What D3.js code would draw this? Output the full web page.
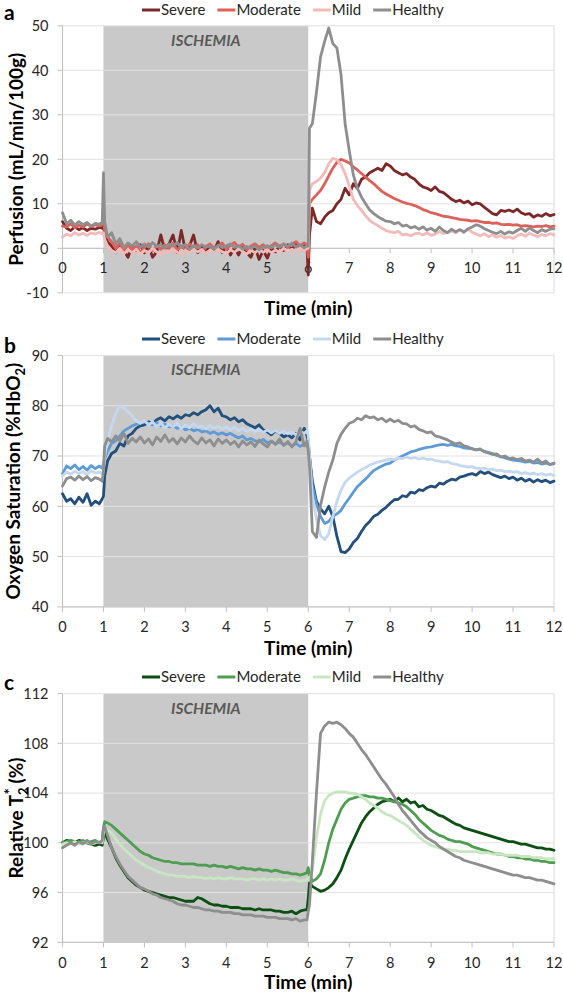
<!DOCTYPE html>
<html><head><meta charset="utf-8">
<script src="https://cdn.jsdelivr.net/npm/d3@7"></script>
<style>body{margin:0;background:#fff}svg{display:block}text{font-family:Lato,"Open Sans",sans-serif}</style>
</head><body><svg id="c" width="563" height="997"></svg>
<script>
// ---------- DATA ----------
const time = [0,0.1,0.2,0.3,0.4,0.5,0.6,0.7,0.8,0.9,
 0.97,1,1.03,
 1.1,1.2,1.3,1.4,1.5,1.6,1.7,1.8,1.9,
 2,2.1,2.2,2.3,2.4,2.5,2.6,2.7,2.8,2.9,
 3,3.1,3.2,3.3,3.4,3.5,3.6,3.7,3.8,3.9,
 4,4.1,4.2,4.3,4.4,4.5,4.6,4.7,4.8,4.9,
 5,5.1,5.2,5.3,5.4,5.5,5.6,5.7,5.8,5.9,
 5.97,6,6.03,
 6.1,6.2,6.3,6.4,6.5,6.6,6.7,6.8,6.9,
 7,7.1,7.2,7.3,7.4,7.5,7.6,7.7,7.8,7.9,
 8,8.1,8.2,8.3,8.4,8.5,8.6,8.7,8.8,8.9,
 9,9.1,9.2,9.3,9.4,9.5,9.6,9.7,9.8,9.9,
 10,10.1,10.2,10.3,10.4,10.5,10.6,10.7,10.8,10.9,
 11,11.1,11.2,11.3,11.4,11.5,11.6,11.7,11.8,11.9,
 12];
const groups = ["Severe","Moderate","Mild","Healthy"];
const timeTicks = [0,1,2,3,4,5,6,7,8,9,10,11,12];
const ischemia = [1,6];

// a: Perfusion (mL/min/100g)
const perfTicks = [-10,0,10,20,30,40,50];
const perfSevere = [6,4.5,4,4.8,4.2,4.6,4,4.5,4.3,4.7,
 4.5,5,3,
 1.5,0.5,-1,0.8,-0.5,-2,0.5,-0.5,0.8,
 -1,0.5,-2,-0.8,3,-0.5,1,3,-1,4,
 -0.5,0.5,3,-1,0.5,-1,0.8,-0.5,1.5,-1,
 0.5,-1.5,0.2,-1.5,0.5,-1,-2,0.2,-2.5,-0.5,
 -2.2,0,-0.8,0.5,-0.5,0.8,-0.3,1,0.2,0.8,
 0.5,-6,3,
 9,6,5.5,7,8,8.5,10,11,13.5,
 12,14.5,13.5,15.5,16,17,17.5,18,17.5,19,
 18.5,17.5,17,16.5,16.8,16,15.5,14.5,13.8,13.5,
 13,13.8,12.8,12.5,11.8,11,10.5,10.8,10.2,10.6,
 9.8,10.2,10,9.2,8.5,7.8,7.5,8.5,8.3,8.6,
 8.2,8.8,8,7.6,7.8,7,7.5,7.2,7.8,7.3,
 7.6];
const perfModerate = [5,4.8,5.5,4.6,5.2,4.8,5.5,4.9,5.3,5,
 5.5,6,4,
 2.5,1.5,0,1.2,-0.5,0.8,-0.3,0.5,-1,
 0.3,1,-0.5,0.6,-0.2,0.8,0,1.2,-0.4,0.5,
 -0.3,1,0.2,0.8,-0.5,0.4,1,0,0.6,1.2,
 -0.2,0.7,1.3,0.2,0.9,-0.3,0.5,1,0.2,0.8,
 -0.2,0.6,1.2,0.4,1,0.2,0.9,1.5,0.6,1.2,
 0.8,-2,10,
 11,12,13,14.5,16.3,18,19.3,20,19.6,
 19.2,18.3,17.6,16.8,16,15.2,14.5,13.6,12.8,12.2,
 11.7,11.2,10.8,10.4,10.1,9.9,9.6,9.2,8.7,8.4,
 8,7.8,7.5,7.2,7.1,6.9,6.7,6.5,6.4,6.3,
 6.1,6.2,6,5.8,5.8,5.6,5.7,5.4,5.3,5.4,
 5.2,5.3,5,5.1,5,4.8,5,4.9,5.1,4.8,
 5];
const perfMild = [2.5,3.2,2.8,3.5,3,3.4,2.9,3.5,3.2,3.6,
 3.3,3.5,2,
 0.5,-0.5,-1,0,-1.2,-0.3,-1,-0.2,-1.3,
 -0.5,-1,0,-0.8,-1.5,-0.3,-1,-0.2,-0.9,-1.4,
 -0.4,-1,-0.2,-0.8,-0.3,-1.1,-0.4,-0.9,-0.2,-0.8,
 -1.2,-0.3,-0.9,-0.1,-0.7,-1.3,-0.4,-1,-0.2,-0.9,
 -0.3,-1,-0.4,-0.9,0,-0.6,-0.2,-0.8,0.1,-0.5,
 0,0,13,
 14.5,15,15.8,17,19,20.2,19.9,18.8,16.8,
 14,11,9.6,8.5,7.3,6.3,5.6,5.1,4.5,4,
 3.7,3.5,3.8,3,3.2,2.8,3.3,3.4,3,3.5,
 2.9,3.2,3.8,3.3,3.6,3.9,3.5,4.2,3.8,4.3,
 3.6,3.2,2.8,3.3,2.6,3,2.5,2.9,2.3,2.6,
 2.2,2.8,3.2,2.7,3.4,3,2.6,3.1,2.8,3.3,
 3];
const perfHealthy = [8,5.5,6.3,5.2,6,5.3,5.8,5,5.6,5.4,
 5.8,17,6,
 2.5,3.5,1,2.2,0.2,1.2,0.5,1.5,0.2,
 1,0.3,1.3,0.4,0.8,0,1,0.5,1.3,0.2,
 0.9,-0.3,0.6,0.1,0.8,0.3,0.5,-0.2,0.7,0.2,
 0.5,1,0.2,0.6,-0.2,0.4,0,0.5,-0.3,0.2,
 0.6,0.1,0.8,0.2,1,0.4,1.2,0.3,0.8,0.1,
 0.6,0.5,27,
 28,35,43,46.5,49.5,46,45,39,28,
 22,16.5,13.5,11.5,10,8.6,7.8,7.1,6.6,6.1,
 6,5.5,5.8,5,5.2,4.6,4.9,4.3,4.8,4.1,
 4.5,3.8,4.8,4,3.5,4.3,3.7,4.2,3.6,4.4,
 4.8,5.3,5,4.4,4,3.6,3.3,3.8,3.2,3.7,
 3.4,4,4.5,3.8,4.6,4,3.5,4.2,3.8,4.3,
 4.4];

// b: Oxygen Saturation (%HbO2)
const satTicks = [40,50,60,70,80,90];
const satSevere = [62.5,61,61.5,60.5,61.8,60.8,62.5,60.2,61,60.5,
 61.5,62,66,
 69,70.5,71,72.5,72,74,74.5,75.5,76,
 76.2,76.8,76.4,77.2,77.6,77,77.8,77.4,78,77.5,
 78.2,78,78.6,78.2,78.8,79.2,80,78.8,79.5,78,
 77.8,77.2,77.6,76.8,77.2,76.4,76,75.6,76.2,75.2,
 74.8,74.2,75,74.5,73.8,74.2,73.6,74.5,73.2,75.5,
 74,73,70,
 65,61,59.5,58.5,60,58,54,51,50.8,
 51.5,52.8,53.6,55,56.2,57,58,58.4,59.2,59.8,
 60.6,61.3,61.4,62.1,61.9,62.8,62.6,63.3,63.1,63.7,
 64,63.8,64.6,64.4,65,65.4,65.2,65.8,66,66.3,
 66.5,66.2,66.9,66.5,66.8,66.3,66,65.7,66,65.5,
 65.8,65.2,65.6,65,65.4,64.8,65.3,64.9,65.2,64.7,
 65];
const satModerate = [66.5,68,67.5,68.2,67.3,67.9,67.2,68.1,67.5,68,
 67.6,68.5,69.5,
 71,72.5,73,74,75,75.5,76,76.3,76.5,
 76.8,76.5,76.2,76.6,76,76.3,75.8,76,75.5,75.8,
 75.2,75.5,75,75.3,74.8,75,74.5,74.8,74.3,74.6,
 74.2,74.5,74,73.6,74,73.2,73.5,73,72.8,73.3,
 72.6,72.9,72.4,72.8,72.2,72.6,72,72.5,71.9,72.4,
 72,71.5,70,
 64,60.5,58,56.6,57,58,58.5,59.2,60.5,
 61.6,62.8,63.9,64.7,65.4,66.3,67.1,67.6,68,68.4,
 68.6,69.2,69.6,70,70.4,70.8,71,71.3,71.5,71.7,
 71.8,72,72.2,72.3,72.1,72.3,72,71.9,71.6,71.5,
 71.4,71.2,71.3,70.9,70.7,70.5,70.1,69.9,69.6,69.4,
 69.2,69.1,69,68.8,68.9,68.6,68.7,68.4,68.6,68.3,
 68.5];
const satMild = [66,66.8,66.4,67,66.5,66.9,66.3,67.1,66.6,66.8,
 66.5,67,70,
 73,76,78.5,80,79.5,78.8,78,77,76.5,
 77,76.2,76.8,75.8,76.5,75.6,76.3,75.8,76.6,75.5,
 76.2,75.6,76.4,75.7,76,75.4,76.1,75.5,75.9,75.3,
 75.8,75.2,75.7,75,75.5,74.9,75.4,74.8,75.3,74.7,
 75.2,74.6,75.1,74.5,75,74.4,74.8,74.2,75,74.5,
 75,74,70,
 62,57.5,54.2,53.4,54.5,58,61,63.2,64.8,
 65.6,66.2,66.8,67.3,67.7,68.2,68.5,68.8,69,69.2,
 69.4,69.3,69.6,69.5,69.8,69.5,69.7,69.4,69.6,69.3,
 69.4,69.1,69,68.8,68.9,68.5,68.4,68.1,68,67.8,
 67.9,67.6,67.5,67.6,67.3,67.4,67.1,67.2,66.9,67,
 66.8,66.9,66.5,66.7,66.4,66.6,66.3,66.5,66.2,66.4,
 66.1];
const satHealthy = [64,65.5,65.8,65.2,66,65.3,65.9,65.1,65.7,65.4,
 65,67,72,
 73.5,72.8,74,73,74.5,72.5,73.5,72.8,73.8,
 72.6,73.4,72.2,73.8,72.9,74.2,72.8,73.5,72.4,73.6,
 72.8,74,73,72.4,73.6,72.6,73.2,72,73.4,72.5,
 73.2,72.3,72.9,71.8,73,72.2,72.8,71.9,73.2,72.4,
 71.8,73,72.3,73.4,72.1,72.9,71.8,72.8,75.5,72,
 73,71,68,
 55,53.8,60.2,63.8,66.8,69.2,72.5,74.3,75.5,
 76.5,76.8,77.5,77.2,78,77.6,77.8,77.2,77.5,76.8,
 77.3,76.8,77.1,76.5,76.4,75.8,76,75.3,75,74.6,
 74.8,74,73.8,73.5,73.2,72.8,72.4,72.6,72,71.8,
 71.5,71.2,71.4,70.8,70.6,70.3,70.4,69.8,70,69.5,
 69.6,69.3,69.5,69,69.2,68.8,69.4,68.6,69,68.3,
 68.6];

// c: Relative T2* (%)
const t2Ticks = [92,96,100,104,108,112];
const t2Severe = [100,100.2,100.1,100,100.2,100.1,100,99.9,99.8,99.9,
 99.8,100.5,100.8,
 100.3,99.6,98.8,98.2,97.7,97.2,96.9,96.6,96.4,
 96.2,96.1,96,95.9,95.8,95.7,95.6,95.6,95.5,95.4,
 95.3,95.3,95.3,95.6,95.5,95.3,95.1,95,95,94.9,
 94.9,94.8,94.8,94.8,94.7,94.7,94.7,94.6,94.7,94.6,
 94.6,94.6,94.5,94.5,94.4,94.4,94.5,94.3,94.5,94.6,
 94.6,95.5,96.8,
 96.5,96.3,96.1,96.2,96.4,96.7,97.2,97.8,98.7,
 99.5,100.2,100.9,101.6,102.1,102.5,102.8,103.1,103.3,103.4,
 103.5,103.3,103.6,103.3,103.5,103.2,103.3,102.9,103,102.7,
 102.6,102.4,102.2,102.1,101.9,101.7,101.5,101.4,101.2,101.1,
 101,100.9,100.8,100.7,100.6,100.5,100.4,100.3,100.2,100.1,
 100.1,100,99.9,99.9,99.8,99.7,99.6,99.6,99.5,99.5,
 99.4];
const t2Moderate = [100,100.1,100.2,100.1,100,100.2,100,100.1,100.2,100,
 100.1,101.2,101.7,
 101.6,101.4,101.1,100.8,100.5,100.2,99.9,99.6,99.3,
 99.1,99,98.8,98.7,98.6,98.5,98.5,98.4,98.4,98.3,
 98.3,98.3,98.3,98.2,98.2,98.2,98.1,98.2,98.1,98.1,
 98,98.1,98,97.9,98,97.9,97.9,97.8,97.9,97.8,
 97.8,97.7,97.8,97.7,97.6,97.6,97.5,97.5,97.4,97.5,
 97.6,98,97.4,
 96.9,97.1,97.5,98.6,100,101.1,101.9,102.7,103.2,
 103.5,103.6,103.7,103.8,103.8,103.7,103.7,103.6,103.6,103.5,
 103.4,103.3,103.2,103.1,102.9,102.6,102.3,101.9,101.6,101.3,
 101,100.8,100.6,100.5,100.3,100.2,100.1,100.1,100,99.9,
 99.7,99.6,99.5,99.4,99.3,99.2,99.1,99.1,99,98.9,
 98.9,98.8,98.8,98.7,98.7,98.6,98.6,98.5,98.5,98.4,
 98.4];
const t2Mild = [99.9,100,99.9,100.1,99.9,100,100.1,99.9,100,100.1,
 100,100.8,101.2,
 101,100.8,100.3,99.9,99.5,99.2,98.9,98.6,98.4,
 98.2,98,97.9,97.7,97.6,97.5,97.4,97.4,97.3,97.3,
 97.3,97.2,97.3,97.2,97.2,97.1,97.2,97.1,97.2,97.1,
 97.1,97.2,97.1,97.1,97.1,97,97.1,97.1,97,97.1,
 97,97.1,97,97.1,97,97,97.1,97,96.9,97,
 97,97.2,97,
 97.8,100.4,102.3,103.4,103.8,104,104.1,104.1,104.1,
 104,104,103.9,103.7,103.5,103.2,103,102.8,102.5,102.3,
 102.2,102,101.8,101.6,101.4,101.1,100.8,100.5,100.2,100,
 99.8,99.7,99.6,99.5,99.5,99.4,99.4,99.3,99.3,99.3,
 99.3,99.3,99.2,99.2,99.2,99.1,99.1,99.1,99,99,
 99,99,98.9,98.9,98.9,98.8,98.8,98.8,98.7,98.7,
 98.7];
const t2Healthy = [99.6,99.8,100,99.8,100.1,99.9,100.2,99.9,100.1,100,
 100.2,101.2,101.3,
 100.6,99.6,98.9,98.3,97.8,97.3,97,96.7,96.4,
 96.3,96.1,95.9,95.8,95.6,95.5,95.4,95.3,95.1,95,
 95,94.9,94.8,94.8,94.7,94.6,94.6,94.5,94.5,94.4,
 94.4,94.4,94.3,94.3,94.2,94.2,94.2,94.1,94.1,94.1,
 94,94,94,93.9,93.9,93.9,93.8,93.9,93.7,93.8,
 93.8,94.5,95,
 98.5,104,108.8,109.4,109.7,109.6,109.7,109.5,109.2,
 108.8,108.5,108,107.5,107.1,106.6,106.1,105.6,105.1,104.7,
 104.2,103.7,103.1,102.6,102.2,101.8,101.4,101,100.7,100.4,
 100.2,100,99.7,99.5,99.3,99.1,98.9,98.8,98.6,98.5,
 98.4,98.3,98.2,98.1,98,97.9,97.8,97.7,97.6,97.5,
 97.4,97.4,97.3,97.2,97.2,97.1,97,97,96.9,96.8,
 96.7];

// ---------- DRAWING ----------
const svg = d3.select("#c");
const X0 = 62.5, X1 = 554;
const x = d3.scaleLinear().domain([0, 12]).range([X0, X1]);

const panels = [
  {letter:"a", top:25.8, bottom:292.8, ticks:perfTicks, axisAt:0,
   series:[perfSevere,perfModerate,perfMild,perfHealthy],
   colors:["#7C2828","#DC615B","#F3BABA","#8E8E8E"],
   tickBase:273, titleBase:315, legendBase:15, letterBase:20, ylabX:23,
   ylab:[{t:"Perfusion (mL/min/100g)"}]},
  {letter:"b", top:355.4, bottom:606.9, ticks:satTicks, axisAt:40,
   series:[satSevere,satModerate,satMild,satHealthy],
   colors:["#234F7D","#5E9AD6","#C4D9F0","#8E8E8E"],
   tickBase:632, titleBase:655, legendBase:344, letterBase:353, ylabX:20,
   ylab:[{t:"Oxygen Saturation (%HbO"},{t:"2",sub:true},{t:")",back:true}]},
  {letter:"c", top:693.6, bottom:942.3, ticks:t2Ticks, axisAt:92,
   series:[t2Severe,t2Moderate,t2Mild,t2Healthy],
   colors:["#0B4F12","#4E9D50","#C8E6C2","#8E8E8E"],
   tickBase:968, titleBase:989, legendBase:682, letterBase:690, ylabX:23,
   ylab:[{t:"Relative T"},{t:"2",sub:true},{t:"*",sup:true},{t:" (%)",back2:true}]}
];

panels.forEach(p => {
  const y = d3.scaleLinear().domain(d3.extent(p.ticks)).range([p.bottom, p.top]);
  const g = svg.append("g");

  g.append("rect").attr("x", x(ischemia[0])).attr("width", x(ischemia[1]) - x(ischemia[0]))
    .attr("y", p.top).attr("height", p.bottom - p.top).attr("fill", "#C9C9C9");

  g.selectAll(".grid").data(p.ticks).join("line")
    .attr("x1", X0).attr("x2", X1).attr("y1", d => y(d)).attr("y2", d => y(d))
    .attr("stroke", "#E2E2E2").attr("stroke-width", 1);
  g.append("line").attr("x1", X1).attr("x2", X1).attr("y1", p.top).attr("y2", p.bottom)
    .attr("stroke", "#D9D9D9");

  g.append("line").attr("x1", X0).attr("x2", X0).attr("y1", p.top).attr("y2", p.bottom)
    .attr("stroke", "#BFBFBF");
  g.selectAll(".ytk").data(p.ticks).join("line")
    .attr("x1", X0 - 5).attr("x2", X0).attr("y1", d => y(d)).attr("y2", d => y(d))
    .attr("stroke", "#BFBFBF");
  g.selectAll(".ylab").data(p.ticks).join("text")
    .attr("x", X0 - 14).attr("y", d => y(d)).attr("dy", "0.36em")
    .attr("text-anchor", "end").attr("font-size", 14.5).attr("fill", "#262626")
    .text(d => d);

  const ya = y(p.axisAt);
  g.append("line").attr("x1", X0).attr("x2", X1).attr("y1", ya).attr("y2", ya)
    .attr("stroke", "#BFBFBF");
  g.selectAll(".xtk").data(timeTicks).join("line")
    .attr("x1", d => x(d)).attr("x2", d => x(d)).attr("y1", ya).attr("y2", ya + 5)
    .attr("stroke", "#BFBFBF");
  g.selectAll(".xlab").data(timeTicks).join("text")
    .attr("x", d => x(d)).attr("y", p.tickBase).attr("text-anchor", "middle")
    .attr("font-size", 14.5).attr("fill", "#262626").text(d => d);

  g.append("text").attr("x", (x(ischemia[0]) + x(ischemia[1])) / 2).attr("y", p.top + 20)
    .attr("text-anchor", "middle").attr("font-size", 15.5).attr("font-weight", "bold")
    .attr("font-style", "italic").attr("fill", "#595959").text("ISCHEMIA");

  const line = d3.line().x((d, i) => x(time[i])).y(d => y(d));
  p.series.forEach((s, k) => {
    g.append("path").datum(s).attr("d", line).attr("fill", "none")
      .attr("stroke", p.colors[k]).attr("stroke-width", 2.8)
      .attr("stroke-linejoin", "round").attr("stroke-linecap", "round");
  });

  g.append("text").attr("x", (X0 + X1) / 2).attr("y", p.titleBase).attr("text-anchor", "middle")
    .attr("font-size", 19).attr("font-weight", "bold").attr("fill", "#000").text("Time (min)");

  const yt = g.append("text").attr("transform", `translate(${p.ylabX},${(p.top + p.bottom) / 2}) rotate(-90)`)
    .attr("text-anchor", "middle").attr("font-size", 19).attr("font-weight", "bold").attr("fill", "#000");
  p.ylab.forEach(part => {
    const ts = yt.append("tspan").text(part.t);
    if (part.sub) ts.attr("font-size", 13).attr("dy", 5);
    if (part.back) ts.attr("dy", -5);
    if (part.sup) ts.attr("font-size", 15).attr("dx", -7).attr("dy", -13);
    if (part.back2) ts.attr("dy", 8);
  });

  // legend laid out left to right
  let lx = 142;
  groups.forEach((name, k) => {
    g.append("line").attr("x1", lx).attr("x2", lx + 18).attr("y1", p.legendBase - 5).attr("y2", p.legendBase - 5)
      .attr("stroke", p.colors[k]).attr("stroke-width", 3);
    const t = g.append("text").attr("x", lx + 19).attr("y", p.legendBase).attr("font-size", 15)
      .attr("fill", "#262626").text(name);
    lx = lx + 19 + t.node().getComputedTextLength() + 12;
  });

  g.append("text").attr("x", 4).attr("y", p.letterBase).attr("font-size", 21)
    .attr("font-weight", "bold").attr("fill", "#000").text(p.letter);
});
</script>
</body></html>
